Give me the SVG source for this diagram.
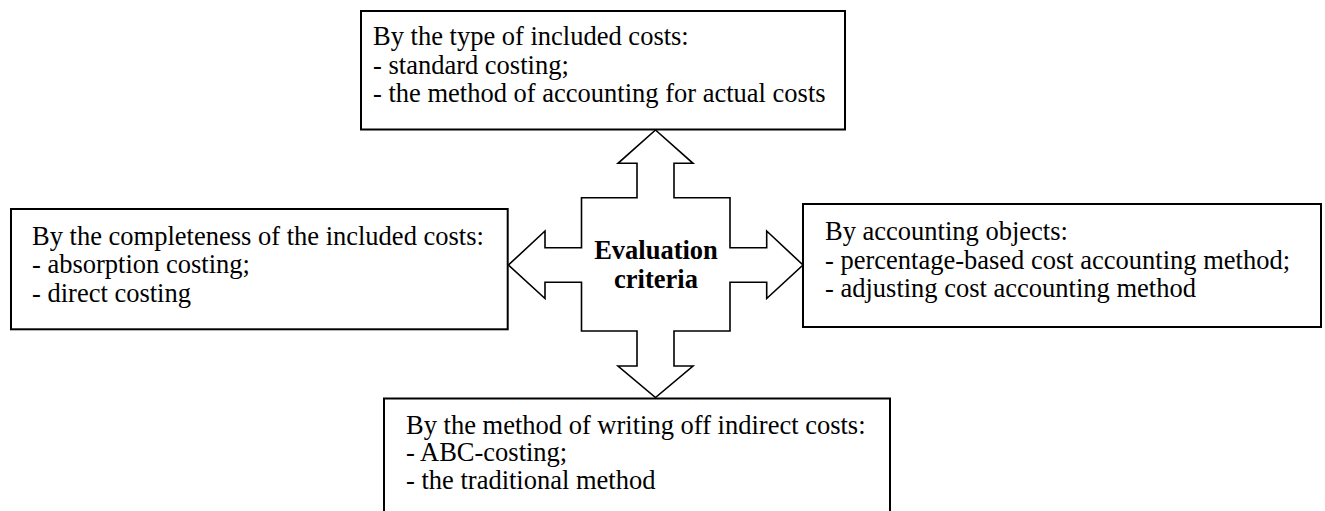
<svg xmlns="http://www.w3.org/2000/svg" width="1325" height="511" viewBox="0 0 1325 511">
<style>
.box{fill:#fff;stroke:#000;stroke-width:2}
.t{font-family:"Liberation Serif","Times New Roman",serif;font-size:26.5px;fill:#000}
.b{font-family:"Liberation Serif","Times New Roman",serif;font-size:26.5px;font-weight:bold;fill:#000;text-anchor:middle}
.cross{fill:#fff;stroke:#000;stroke-width:1.6;stroke-linejoin:miter}
</style>
<rect width="1325" height="511" fill="#fff"/>
<g id="connectors">
<polygon class="cross" points="655.5,130 693,163.3 674,163.3 674,197.7 730,197.7 730,247.7 766.7,247.7 766.7,231 803,265 766.7,298.5 766.7,282.3 730,282.3 730,331 674,331 674,366 693,366 655.5,397.5 618,366 637,366 637,331 581.5,331 581.5,282.3 545,282.3 545,298.5 508.5,265 545,231 545,247.7 581.5,247.7 581.5,197.7 637,197.7 637,163.3 618,163.3"/>
</g>
<g id="center">
<text class="b" x="656" y="258.5">Evaluation</text>
<text class="b" x="656" y="288">criteria</text>
</g>
<g id="top">
<rect class="box" x="361" y="11" width="484" height="118.5"/>
<text class="t" x="373" y="45">By the type of included costs:</text>
<text class="t" x="373" y="73.5">- standard costing;</text>
<text class="t" x="373" y="102">- the method of accounting for actual costs</text>
</g>
<g id="left">
<rect class="box" x="11" y="209" width="496.7" height="120.3"/>
<text class="t" x="32" y="244.5">By the completeness of the included costs:</text>
<text class="t" x="32" y="273">- absorption costing;</text>
<text class="t" x="32" y="301.5">- direct costing</text>
</g>
<g id="right">
<rect class="box" x="803" y="204" width="518" height="123"/>
<text class="t" x="825" y="240">By accounting objects:</text>
<text class="t" x="825" y="268.5">- percentage-based cost accounting method;</text>
<text class="t" x="825" y="297">- adjusting cost accounting method</text>
</g>
<g id="bottom">
<rect class="box" x="384" y="398.5" width="506" height="120"/>
<text class="t" x="406" y="433.5">By the method of writing off indirect costs:</text>
<text class="t" x="406" y="461">- ABC-costing;</text>
<text class="t" x="406" y="488.5">- the traditional method</text>
</g>
</svg>
